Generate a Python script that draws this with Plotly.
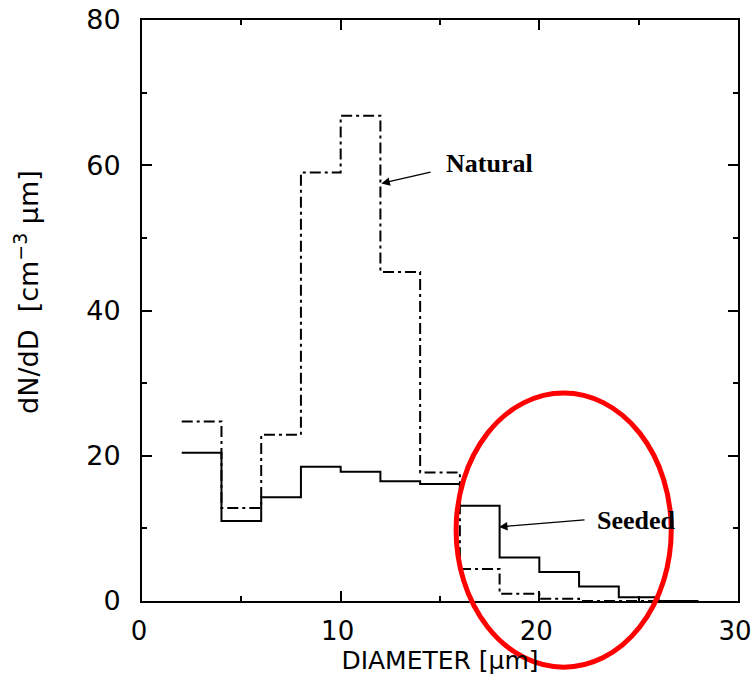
import plotly.graph_objects as go

# Droplet size distribution, 2-um bins
bin_edges = [2, 4, 6, 8, 10, 12, 14, 16, 18, 20, 22, 24, 26, 28]
natural = [24.7, 12.8, 22.9, 59.0, 66.8, 45.3, 17.7, 4.4, 1.0, 0.3, 0.0, 0.0, 0.0]
seeded = [20.4, 11.0, 14.3, 18.5, 17.8, 16.5, 16.1, 13.1, 6.0, 4.0, 2.0, 0.5, 0.0]

x_ticks = [0, 10, 20, 30]
y_ticks = [0, 20, 40, 60, 80]


def steps(values):
    # repeat last value so the final bin gets its horizontal segment
    return bin_edges[:len(values) + 1], values + [values[-1]]


fig = go.Figure()
nx, ny = steps(natural)
fig.add_trace(go.Scatter(x=nx, y=ny, mode="lines", line_shape="hv",
                         line=dict(color="black", width=2, dash="11px,4px,3px,4px"),
                         name="Natural", showlegend=False))
sx, sy = steps(seeded)
fig.add_trace(go.Scatter(x=sx, y=sy, mode="lines", line_shape="hv",
                         line=dict(color="black", width=2),
                         name="Seeded", showlegend=False))

sans = "DejaVu Sans, Liberation Sans, Arial"
axis_common = dict(showgrid=False, zeroline=False, showline=True, linecolor="black",
                   linewidth=2, mirror="ticks", ticks="inside", tickcolor="black",
                   tickwidth=1.5, ticklen=10, automargin=False,
                   ticklabeloverflow="allow")

fig.update_xaxes(range=[0, 30], tickvals=x_ticks, ticklabelstandoff=6,
                 ticklabelshift=-3,
                 tickfont=dict(family=sans, size=26, color="black"),
                 minor=dict(dtick=5, ticks="inside", ticklen=5, tickcolor="black"),
                 title=dict(text="DIAMETER [μm]", standoff=4,
                            font=dict(family=sans, size=25, color="black")),
                 **axis_common)
fig.update_yaxes(range=[0, 80], tickvals=y_ticks, ticklabelstandoff=14,
                 tickfont=dict(family=sans, size=27, color="black"),
                 minor=dict(dtick=10, ticks="inside", ticklen=5, tickcolor="black"),
                 **axis_common)

# y-axis title, placed a little above the axis centre
fig.add_annotation(xref="paper", yref="paper", x=-0.193, y=0.532,
                   text="dN/dD  [cm<sup>−3</sup> μm]", textangle=-90, showarrow=False,
                   xanchor="center", yanchor="middle",
                   font=dict(family=sans, size=27, color="black"))

label_font = dict(family="Liberation Serif, Times New Roman", size=26, color="black")
arrow_style = dict(showarrow=True, arrowhead=2, arrowwidth=1.3, arrowsize=1.3,
                   arrowcolor="black", axref="x", ayref="y", text="", standoff=0)
fig.add_annotation(x=12.05, y=57.5, ax=14.6, ay=59.1, **arrow_style)
fig.add_annotation(x=15.2, y=60.3, text="<b>Natural</b>", showarrow=False,
                   xanchor="left", yanchor="middle", font=label_font)
fig.add_annotation(x=17.97, y=10.2, ax=22.35, ay=11.2, **arrow_style)
fig.add_annotation(x=22.8, y=11.1, text="<b>Seeded</b>", showarrow=False,
                   xanchor="left", yanchor="middle", font=label_font)

# highlight around the large-drop tail
fig.add_shape(type="circle", xref="paper", yref="paper",
              x0=0.527, x1=0.888, y0=-0.114, y1=0.358,
              line=dict(color="#ff0000", width=5))

fig.update_layout(width=753, height=690, margin=dict(l=142, r=15, t=20, b=89),
                  plot_bgcolor="white", paper_bgcolor="white")

fig.write_html("out.html")
